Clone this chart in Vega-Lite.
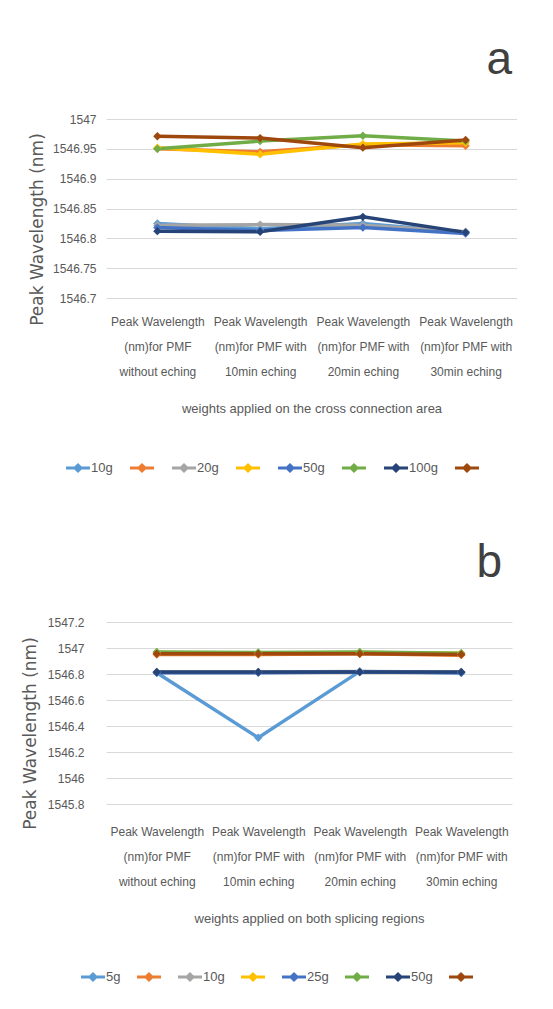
{
  "$schema": "https://vega.github.io/schema/vega-lite/v6.json",
  "background": "white",
  "padding": {"left": 21, "top": 37, "right": 0, "bottom": 0},
  "spacing": 65,
  "align": "none",
  "config": {
    "font": "Liberation Sans",
    "view": {"stroke": null},
    "axis": {
      "labelFont": "Liberation Sans",
      "labelFontSize": 12,
      "labelColor": "#595959",
      "titleFont": "Liberation Sans",
      "titleColor": "#595959",
      "titleFontWeight": "normal",
      "ticks": false,
      "domain": false,
      "gridColor": "#d9d9d9",
      "gridWidth": 1
    },
    "legend": {
      "labelFont": "Liberation Sans",
      "labelFontSize": 13,
      "labelColor": "#595959"
    },
    "title": {"font": "Liberation Sans", "fontWeight": "normal", "color": "#404040", "fontSize": 46}
  },
  "resolve": {"scale": {"color": "independent", "x": "independent", "y": "independent"}, "legend": {"color": "independent"}},
  "vconcat": [
    {
      "title": {"text": "a", "anchor": "end", "baseline": "alphabetic", "offset": -7, "dx": -5},
      "width": 411,
      "height": 179,
      "data": {
        "values": [
          {"weight": "10g", "stage": "Peak Wavelength|(nm)for PMF|without eching", "wavelength": 1546.825},
          {"weight": "10g", "stage": "Peak Wavelength|(nm)for PMF with|10min eching", "wavelength": 1546.816},
          {"weight": "10g", "stage": "Peak Wavelength|(nm)for PMF with|20min eching", "wavelength": 1546.825},
          {"weight": "10g", "stage": "Peak Wavelength|(nm)for PMF with|30min eching", "wavelength": 1546.81},
          {"weight": " ", "stage": "Peak Wavelength|(nm)for PMF|without eching", "wavelength": 1546.95},
          {"weight": " ", "stage": "Peak Wavelength|(nm)for PMF with|10min eching", "wavelength": 1546.945},
          {"weight": " ", "stage": "Peak Wavelength|(nm)for PMF with|20min eching", "wavelength": 1546.957},
          {"weight": " ", "stage": "Peak Wavelength|(nm)for PMF with|30min eching", "wavelength": 1546.955},
          {"weight": "20g", "stage": "Peak Wavelength|(nm)for PMF|without eching", "wavelength": 1546.822},
          {"weight": "20g", "stage": "Peak Wavelength|(nm)for PMF with|10min eching", "wavelength": 1546.823},
          {"weight": "20g", "stage": "Peak Wavelength|(nm)for PMF with|20min eching", "wavelength": 1546.822},
          {"weight": "20g", "stage": "Peak Wavelength|(nm)for PMF with|30min eching", "wavelength": 1546.811},
          {"weight": "  ", "stage": "Peak Wavelength|(nm)for PMF|without eching", "wavelength": 1546.952},
          {"weight": "  ", "stage": "Peak Wavelength|(nm)for PMF with|10min eching", "wavelength": 1546.941},
          {"weight": "  ", "stage": "Peak Wavelength|(nm)for PMF with|20min eching", "wavelength": 1546.958},
          {"weight": "  ", "stage": "Peak Wavelength|(nm)for PMF with|30min eching", "wavelength": 1546.96},
          {"weight": "50g", "stage": "Peak Wavelength|(nm)for PMF|without eching", "wavelength": 1546.818},
          {"weight": "50g", "stage": "Peak Wavelength|(nm)for PMF with|10min eching", "wavelength": 1546.813},
          {"weight": "50g", "stage": "Peak Wavelength|(nm)for PMF with|20min eching", "wavelength": 1546.818},
          {"weight": "50g", "stage": "Peak Wavelength|(nm)for PMF with|30min eching", "wavelength": 1546.808},
          {"weight": "   ", "stage": "Peak Wavelength|(nm)for PMF|without eching", "wavelength": 1546.95},
          {"weight": "   ", "stage": "Peak Wavelength|(nm)for PMF with|10min eching", "wavelength": 1546.963},
          {"weight": "   ", "stage": "Peak Wavelength|(nm)for PMF with|20min eching", "wavelength": 1546.972},
          {"weight": "   ", "stage": "Peak Wavelength|(nm)for PMF with|30min eching", "wavelength": 1546.963},
          {"weight": "100g", "stage": "Peak Wavelength|(nm)for PMF|without eching", "wavelength": 1546.812},
          {"weight": "100g", "stage": "Peak Wavelength|(nm)for PMF with|10min eching", "wavelength": 1546.811},
          {"weight": "100g", "stage": "Peak Wavelength|(nm)for PMF with|20min eching", "wavelength": 1546.836},
          {"weight": "100g", "stage": "Peak Wavelength|(nm)for PMF with|30min eching", "wavelength": 1546.81},
          {"weight": "    ", "stage": "Peak Wavelength|(nm)for PMF|without eching", "wavelength": 1546.971},
          {"weight": "    ", "stage": "Peak Wavelength|(nm)for PMF with|10min eching", "wavelength": 1546.968},
          {"weight": "    ", "stage": "Peak Wavelength|(nm)for PMF with|20min eching", "wavelength": 1546.952},
          {"weight": "    ", "stage": "Peak Wavelength|(nm)for PMF with|30min eching", "wavelength": 1546.965}
        ]
      },
      "encoding": {
        "x": {
          "field": "stage", "type": "nominal", "sort": null,
          "axis": {
            "title": "weights applied on the cross connection area",
            "titleFontSize": 13, "titlePadding": 25,
            "labelAngle": 0, "labelExpr": "split(datum.label, '|')",
            "labelLineHeight": 25, "labelPadding": 18, "grid": false
          }
        },
        "y": {
          "field": "wavelength", "type": "quantitative",
          "scale": {"domain": [1546.7, 1547], "nice": false, "zero": false},
          "axis": {
            "title": "Peak Wavelength (nm)",
            "titleFont": "DejaVu Sans", "titleFontSize": 17, "titlePadding": 6, "titleY": 110,
            "values": [1546.7, 1546.75, 1546.8, 1546.85, 1546.9, 1546.95, 1547],
            "format": "~f", "labelPadding": 10
          }
        },
        "color": {
          "field": "weight", "type": "nominal", "sort": null,
          "scale": {
            "domain": ["10g", " ", "20g", "  ", "50g", "   ", "100g", "    "],
            "range": ["#5B9BD5", "#ED7D31", "#A5A5A5", "#FFC000", "#4472C4", "#70AD47", "#264478", "#9E480E"]
          },
          "legend": {
            "title": null, "orient": "none", "legendX": -40, "legendY": 337,
            "direction": "horizontal", "columns": 8, "columnPadding": 17,
            "symbolType": "M-1,-0.12L-0.3,-0.12L0,-0.42L0.3,-0.12L1,-0.12L1,0.12L0.3,0.12L0,0.42L-0.3,0.12L-1,0.12Z",
            "symbolSize": 576, "symbolStrokeWidth": 0, "symbolOpacity": 1, "labelOffset": 1
          }
        }
      },
      "layer": [
        {"mark": {"type": "line", "strokeWidth": 3.5}},
        {"mark": {"type": "point", "shape": "diamond", "filled": true, "size": 70, "opacity": 1}}
      ]
    },
    {
      "title": {"text": "b", "anchor": "end", "baseline": "alphabetic", "offset": -7, "dx": -10},
      "width": 406,
      "height": 182,
      "data": {
        "values": [
          {"weight": "5g", "stage": "Peak Wavelength|(nm)for PMF|without eching", "wavelength": 1546.81},
          {"weight": "5g", "stage": "Peak Wavelength|(nm)for PMF with|10min eching", "wavelength": 1546.31},
          {"weight": "5g", "stage": "Peak Wavelength|(nm)for PMF with|20min eching", "wavelength": 1546.82},
          {"weight": "5g", "stage": "Peak Wavelength|(nm)for PMF with|30min eching", "wavelength": 1546.81},
          {"weight": " ", "stage": "Peak Wavelength|(nm)for PMF|without eching", "wavelength": 1546.95},
          {"weight": " ", "stage": "Peak Wavelength|(nm)for PMF with|10min eching", "wavelength": 1546.95},
          {"weight": " ", "stage": "Peak Wavelength|(nm)for PMF with|20min eching", "wavelength": 1546.955},
          {"weight": " ", "stage": "Peak Wavelength|(nm)for PMF with|30min eching", "wavelength": 1546.945},
          {"weight": "10g", "stage": "Peak Wavelength|(nm)for PMF|without eching", "wavelength": 1546.815},
          {"weight": "10g", "stage": "Peak Wavelength|(nm)for PMF with|10min eching", "wavelength": 1546.815},
          {"weight": "10g", "stage": "Peak Wavelength|(nm)for PMF with|20min eching", "wavelength": 1546.82},
          {"weight": "10g", "stage": "Peak Wavelength|(nm)for PMF with|30min eching", "wavelength": 1546.815},
          {"weight": "  ", "stage": "Peak Wavelength|(nm)for PMF|without eching", "wavelength": 1546.965},
          {"weight": "  ", "stage": "Peak Wavelength|(nm)for PMF with|10min eching", "wavelength": 1546.96},
          {"weight": "  ", "stage": "Peak Wavelength|(nm)for PMF with|20min eching", "wavelength": 1546.965},
          {"weight": "  ", "stage": "Peak Wavelength|(nm)for PMF with|30min eching", "wavelength": 1546.96},
          {"weight": "25g", "stage": "Peak Wavelength|(nm)for PMF|without eching", "wavelength": 1546.81},
          {"weight": "25g", "stage": "Peak Wavelength|(nm)for PMF with|10min eching", "wavelength": 1546.81},
          {"weight": "25g", "stage": "Peak Wavelength|(nm)for PMF with|20min eching", "wavelength": 1546.815},
          {"weight": "25g", "stage": "Peak Wavelength|(nm)for PMF with|30min eching", "wavelength": 1546.81},
          {"weight": "   ", "stage": "Peak Wavelength|(nm)for PMF|without eching", "wavelength": 1546.97},
          {"weight": "   ", "stage": "Peak Wavelength|(nm)for PMF with|10min eching", "wavelength": 1546.965},
          {"weight": "   ", "stage": "Peak Wavelength|(nm)for PMF with|20min eching", "wavelength": 1546.97},
          {"weight": "   ", "stage": "Peak Wavelength|(nm)for PMF with|30min eching", "wavelength": 1546.96},
          {"weight": "50g", "stage": "Peak Wavelength|(nm)for PMF|without eching", "wavelength": 1546.815},
          {"weight": "50g", "stage": "Peak Wavelength|(nm)for PMF with|10min eching", "wavelength": 1546.815},
          {"weight": "50g", "stage": "Peak Wavelength|(nm)for PMF with|20min eching", "wavelength": 1546.815},
          {"weight": "50g", "stage": "Peak Wavelength|(nm)for PMF with|30min eching", "wavelength": 1546.815},
          {"weight": "    ", "stage": "Peak Wavelength|(nm)for PMF|without eching", "wavelength": 1546.955},
          {"weight": "    ", "stage": "Peak Wavelength|(nm)for PMF with|10min eching", "wavelength": 1546.955},
          {"weight": "    ", "stage": "Peak Wavelength|(nm)for PMF with|20min eching", "wavelength": 1546.955},
          {"weight": "    ", "stage": "Peak Wavelength|(nm)for PMF with|30min eching", "wavelength": 1546.95}
        ]
      },
      "encoding": {
        "x": {
          "field": "stage", "type": "nominal", "sort": null,
          "axis": {
            "title": "weights applied on both splicing regions",
            "titleFontSize": 13, "titlePadding": 25,
            "labelAngle": 0, "labelExpr": "split(datum.label, '|')",
            "labelLineHeight": 25, "labelPadding": 22, "grid": false
          }
        },
        "y": {
          "field": "wavelength", "type": "quantitative",
          "scale": {"domain": [1545.8, 1547.2], "nice": false, "zero": false},
          "axis": {
            "title": "Peak Wavelength (nm)",
            "titleFont": "DejaVu Sans", "titleFontSize": 17, "titlePadding": 8, "titleY": 111,
            "values": [1545.8, 1546, 1546.2, 1546.4, 1546.6, 1546.8, 1547, 1547.2],
            "format": "~f", "labelPadding": 22
          }
        },
        "color": {
          "field": "weight", "type": "nominal", "sort": null,
          "scale": {
            "domain": ["5g", " ", "10g", "  ", "25g", "   ", "50g", "    "],
            "range": ["#5B9BD5", "#ED7D31", "#A5A5A5", "#FFC000", "#4472C4", "#70AD47", "#264478", "#9E480E"]
          },
          "legend": {
            "title": null, "orient": "none", "legendX": -25, "legendY": 343,
            "direction": "horizontal", "columns": 8, "columnPadding": 16,
            "symbolType": "M-1,-0.12L-0.3,-0.12L0,-0.42L0.3,-0.12L1,-0.12L1,0.12L0.3,0.12L0,0.42L-0.3,0.12L-1,0.12Z",
            "symbolSize": 576, "symbolStrokeWidth": 0, "symbolOpacity": 1, "labelOffset": 1
          }
        }
      },
      "layer": [
        {"mark": {"type": "line", "strokeWidth": 3.5}},
        {"mark": {"type": "point", "shape": "diamond", "filled": true, "size": 70, "opacity": 1}}
      ]
    }
  ]
}
